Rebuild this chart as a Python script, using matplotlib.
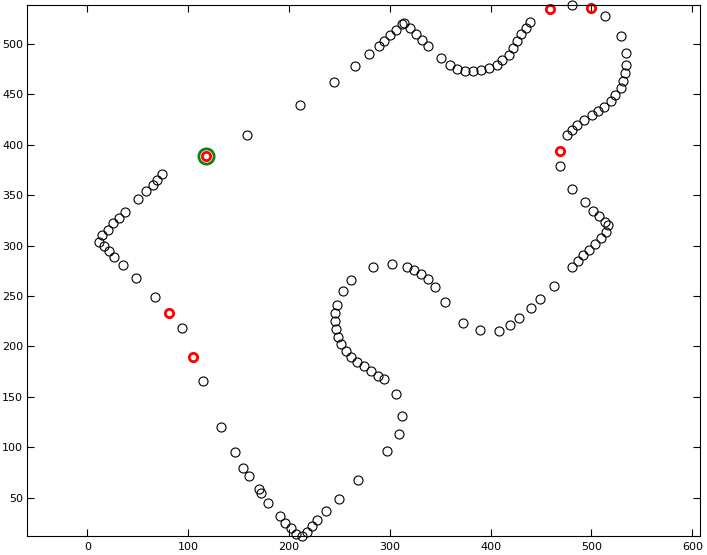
import matplotlib
matplotlib.use("Agg")
import matplotlib.pyplot as plt

x_black = [158.7, 211, 244.9, 265.8, 279.7, 289, 294.6, 300.6, 306.5, 312.4, 314.4, 320.4, 326.3, 332.3, 338.2,
           351.1, 360, 367, 374.9, 382.5, 390.8, 398.7, 406, 411.6, 417.9, 422.2, 426.4, 430.4, 435.4, 439.4,
           481, 513.8, 529.6, 534.6, 534.6, 533.6, 531.6, 529, 523.7, 519.7, 512.8, 506.8, 500.2, 492.9, 486,
           481, 475.8, 469.1, 481, 493.9, 501.8, 507.8, 513.1, 516.7, 514.4, 509.8, 503.8, 497.9, 491.9,
           486.9, 481, 462.5, 449.3, 440.1, 428.5, 419.2, 408.6, 389.8, 372.6, 355, 345.1, 338.1, 330.9, 323.9,
           317.4, 302.2, 283.7, 261.8, 253.3, 247.9, 246, 245.7, 246.7, 249, 252, 256.6, 261.8, 267.8, 274.4,
           281.5, 288.3, 294.3, 306.1, 312.1, 309.5, 297.2, 268.8, 249.6, 236.7, 228.1, 222.9, 217.6, 212.9,
           207, 201.7, 196.4, 191.1, 179.5, 172.6, 170.6, 160.7, 154.1, 146.5, 132.6, 115.1, 93.9, 67.1,
           48.3, 35.7, 26.8, 21.5, 16.3, 11.9, 14.9, 20.5, 25.8, 31.7, 37.7, 50.6, 58.2, 64.9, 68.8, 74.4]
y_black = [409.7, 439.2, 462, 478.2, 490.1, 498, 502.7, 508.6, 513.9, 519.5, 520.5, 515.9, 509.9, 503.7, 497.7,
           485.8, 478.9, 475.2, 473.2, 473.2, 474.5, 476.5, 479.5, 483.8, 489.4, 495.7, 502.7, 509.6, 515.9, 521.5,
           538.7, 527.8, 507.9, 490.8, 478.9, 471.2, 463, 456, 449.1, 443.2, 437.8, 433.8, 429.6, 424.6, 420,
           414.7, 409.4, 379, 356.5, 343, 334.1, 329.7, 323.8, 320.8, 313.6, 307.3, 301.6, 295.7, 290.4,
           285.1, 278.5, 259.7, 247.1, 238.2, 228.2, 221.3, 215, 216, 223, 243.8, 258.7, 266.9, 271.6, 275.8,
           279.1, 281.5, 279.1, 265.6, 254.7, 240.8, 232.9, 225.6, 217.3, 209.7, 202.4, 195.5, 189.2, 184.3, 180.5,
           176, 171, 167.4, 152.5, 131, 112.9, 96, 67.3, 48.7, 36.8, 27.9, 21.6, 16.3, 12.3,
           13.7, 19.6, 24.9, 31.5, 45, 54.3, 58.6, 71.5, 79.1, 95, 119.8, 165.5, 218.1, 248.8,
           267.6, 280.5, 288.4, 294.7, 299.4, 303.6, 310.6, 316, 322.2, 327.1, 333, 346, 354.2, 360.1, 365.1, 371.1]

x_red = [117.7, 459.2, 499.3, 468.8, 105.1, 81.3]
y_red = [389.2, 534.7, 536, 393.9, 189.2, 233.5]

x_green = [117.7]
y_green = [389.2]

xticks = [0, 100, 200, 300, 400, 500, 600]
yticks = [50, 100, 150, 200, 250, 300, 350, 400, 450, 500]

fig = plt.figure(figsize=(7.07, 5.55), dpi=100)
ax = fig.add_axes([0.0377, 0.0342, 0.9523, 0.9563])
ax.plot(x_black, y_black, 'o', linestyle='none', markerfacecolor='none',
        markeredgecolor='black', markersize=6.5, markeredgewidth=0.8, clip_on=False)
ax.plot(x_red, y_red, 'o', linestyle='none', markerfacecolor='none',
        markeredgecolor='#ff0000', markersize=6, markeredgewidth=2, clip_on=False)
ax.plot(x_green, y_green, 'o', linestyle='none', markerfacecolor='none',
        markeredgecolor='#108010', markersize=11, markeredgewidth=2, clip_on=False)

ax.set_xlim(-60.1, 607.6)
ax.set_ylim(12.0, 538.4)
ax.set_xticks(xticks)
ax.set_yticks(yticks)
ax.tick_params(direction='in', length=5, width=0.8, top=True, right=True, labelsize=8)
ax.tick_params(axis='y', pad=2.5)
ax.tick_params(axis='x', pad=4)
for s in ax.spines.values():
    s.set_linewidth(0.8)

fig.savefig("out.png", dpi=100)
